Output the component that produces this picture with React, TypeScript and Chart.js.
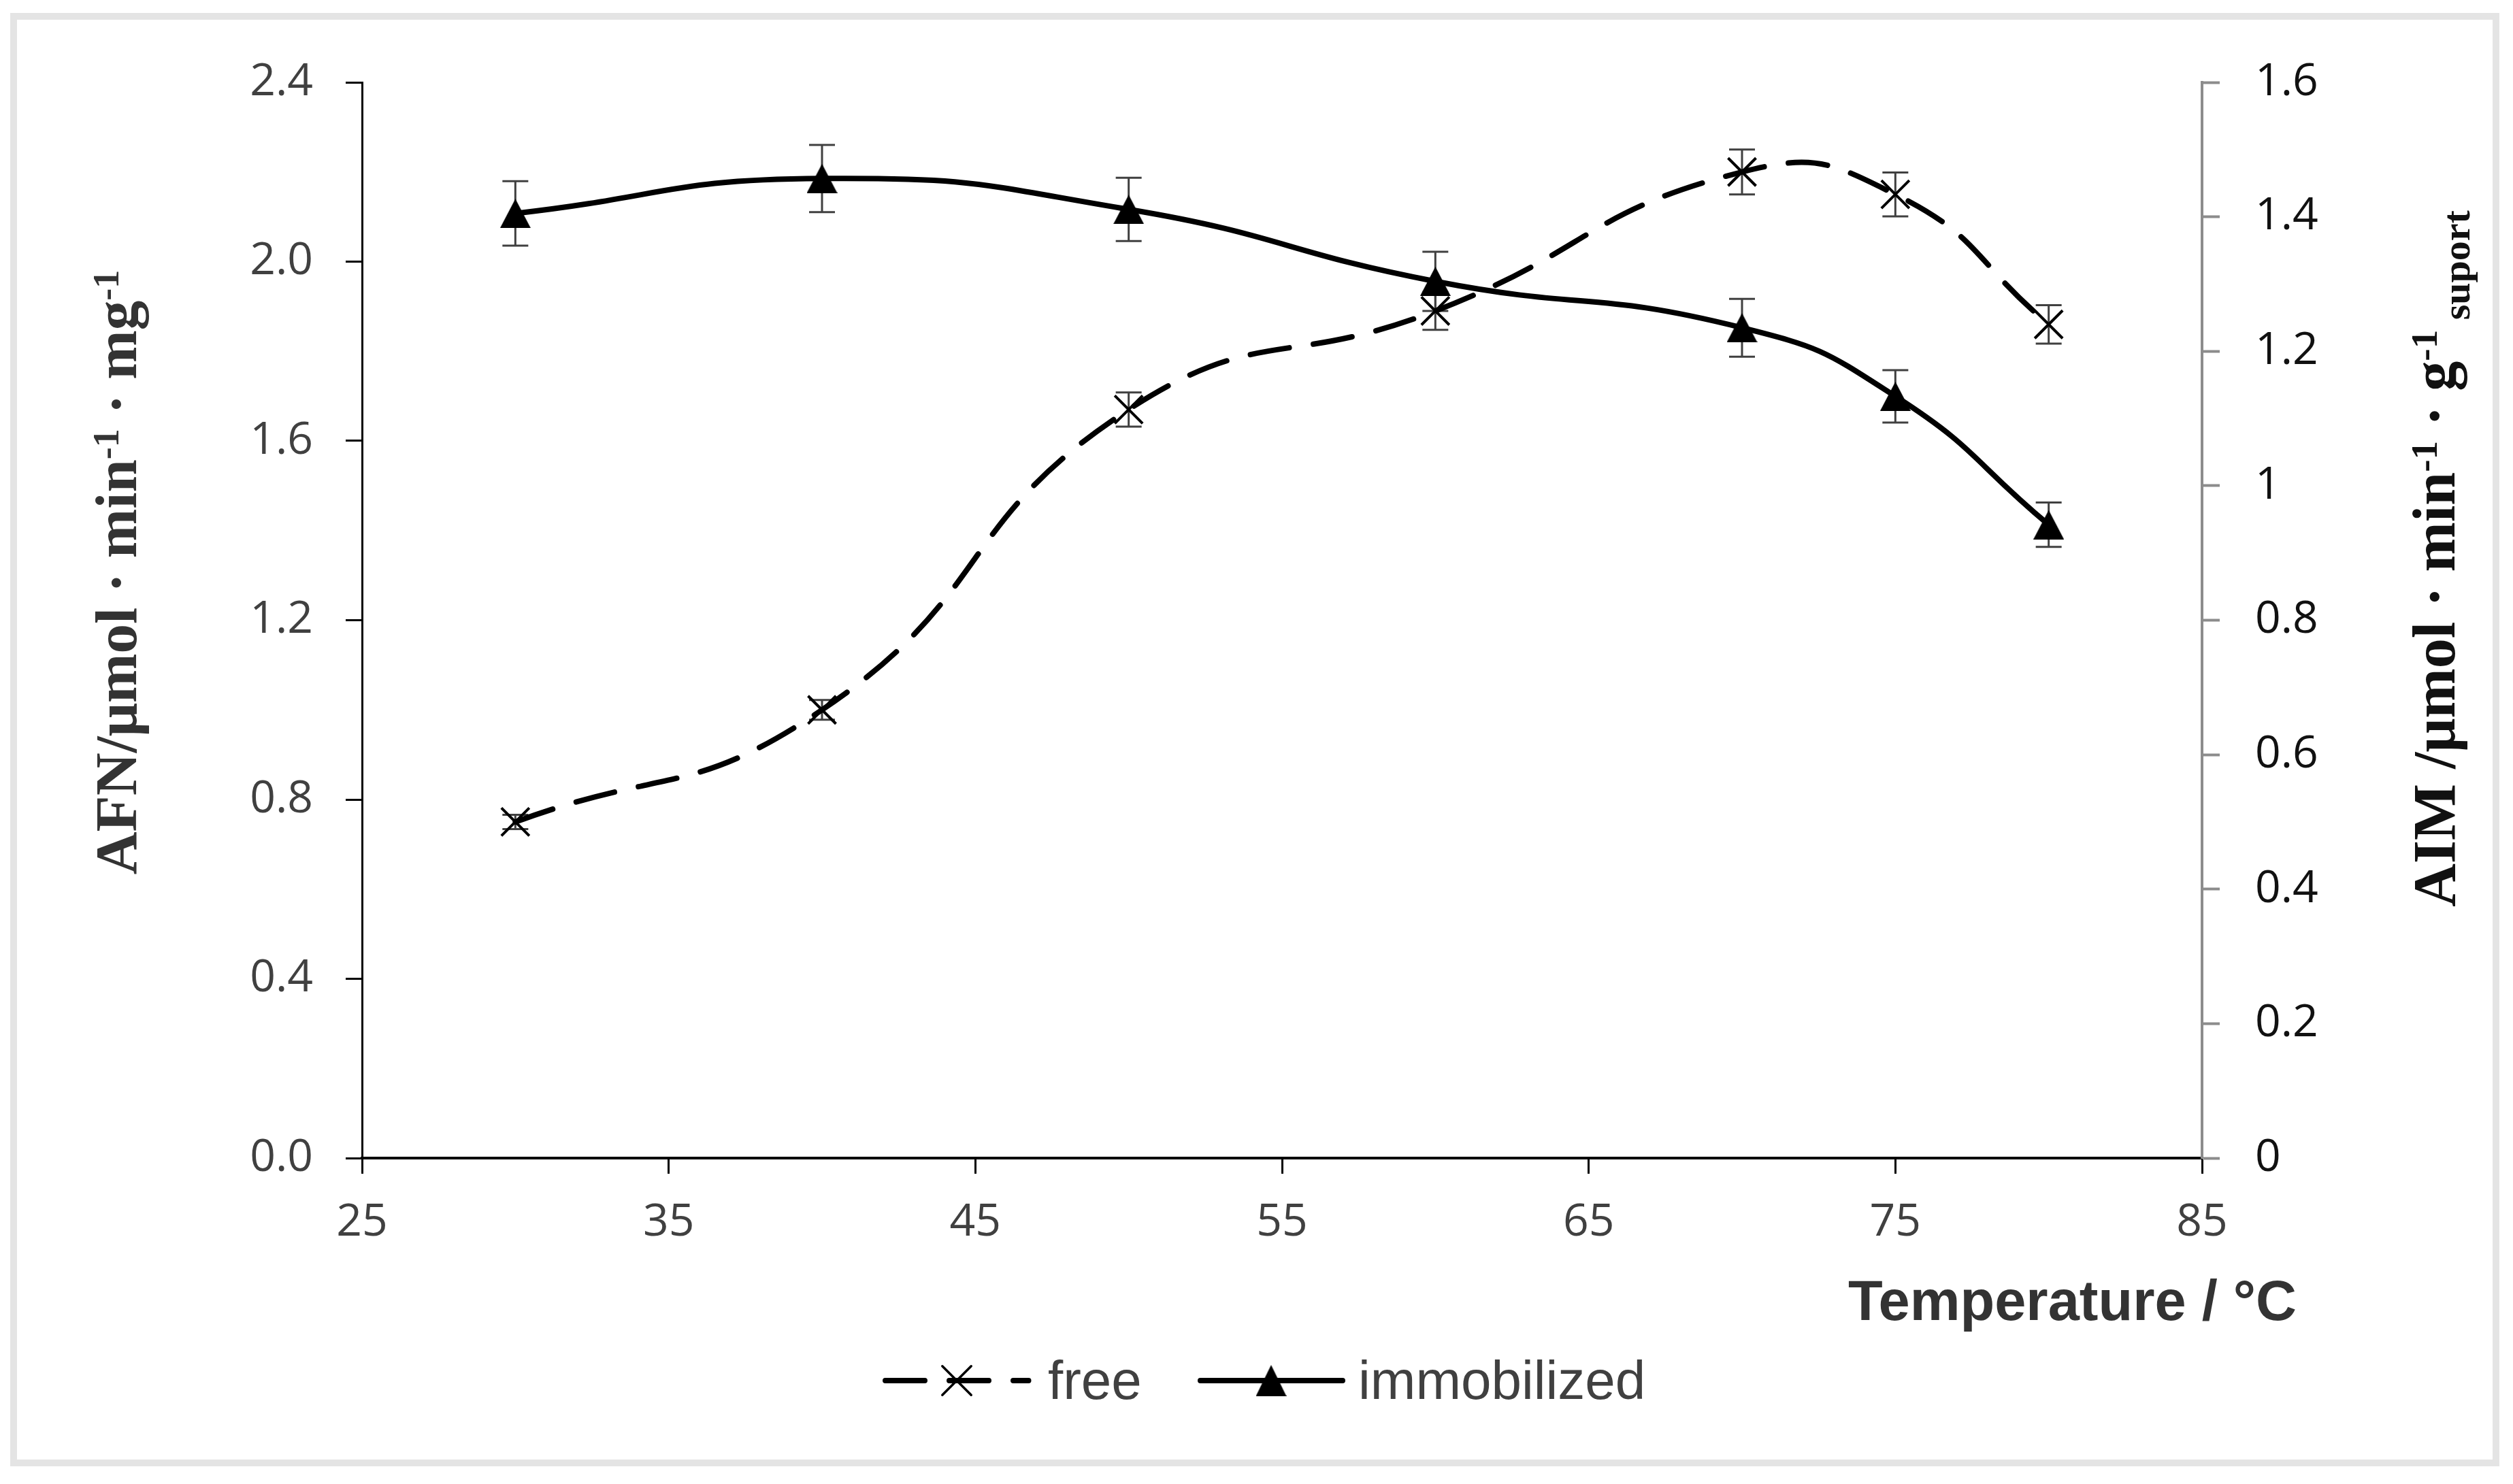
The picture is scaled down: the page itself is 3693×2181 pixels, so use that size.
import React, { useEffect, useRef } from 'react';
import { Chart, registerables } from 'chart.js';

Chart.register(...registerables);

// ---------------- data ----------------
const temperatures = [30, 40, 50, 60, 70, 75, 80];
const freeActivity = [0.75, 1.0, 1.67, 1.89, 2.2, 2.15, 1.86];
const freeError = [0.016, 0.022, 0.038, 0.042, 0.05, 0.049, 0.043];
const immobilizedActivity = [1.405, 1.457, 1.411, 1.304, 1.235, 1.133, 0.942];
const immobilizedError = [0.048, 0.05, 0.047, 0.044, 0.043, 0.039, 0.033];
const seriesNames = ['free', 'immobilized'];

const xTickValues = [25, 35, 45, 55, 65, 75, 85];
const leftTickValues = [0, 0.4, 0.8, 1.2, 1.6, 2.0, 2.4];
const leftTickLabels = ['0.0', '0.4', '0.8', '1.2', '1.6', '2.0', '2.4'];
const rightTickValues = [0, 0.2, 0.4, 0.6, 0.8, 1.0, 1.2, 1.4, 1.6];
const rightTickLabels = ['0', '0.2', '0.4', '0.6', '0.8', '1', '1.2', '1.4', '1.6'];

const xTitle = 'Temperature / °C';
type Seg = { t: string; m?: 'sup' | 'sub' };
const leftTitle: Seg[] = [
  { t: 'AFN/μmol · min' },
  { t: '-1', m: 'sup' },
  { t: ' · mg' },
  { t: '-1', m: 'sup' },
];
const rightTitle: Seg[] = [
  { t: 'AIM /μmol · min' },
  { t: '-1', m: 'sup' },
  { t: ' · g' },
  { t: '-1', m: 'sup' },
  { t: ' suport', m: 'sub' },
];

// ---------------- styling ----------------
const W = 3693;
const H = 2181;
const TICK_FONT = '"Open Sans", "Liberation Sans", sans-serif';
const SANS = '"Liberation Sans", Arial, sans-serif';
const SERIF = '"Liberation Serif", "Times New Roman", serif';
const DASH = [58, 36];
const LINE_W = 8;

function makeTriangle(): HTMLCanvasElement {
  const c = document.createElement('canvas');
  c.width = 45;
  c.height = 43;
  const g = c.getContext('2d')!;
  g.fillStyle = '#000';
  g.beginPath();
  g.moveTo(22.5, 0);
  g.lineTo(45, 43);
  g.lineTo(0, 43);
  g.closePath();
  g.fill();
  return c;
}

function drawRich(ctx: CanvasRenderingContext2D, segs: Seg[], cx: number, cy: number, base: number, color: string) {
  ctx.save();
  ctx.translate(cx, cy);
  ctx.rotate(-Math.PI / 2);
  ctx.fillStyle = color;
  ctx.textAlign = 'left';
  ctx.textBaseline = 'alphabetic';
  const fontFor = (s: Seg) => {
    const size = s.m === 'sup' ? base * 0.62 : s.m === 'sub' ? base * 0.66 : base;
    return `bold ${Math.round(size)}px ${SERIF}`;
  };
  let total = 0;
  for (const s of segs) {
    ctx.font = fontFor(s);
    total += ctx.measureText(s.t).width;
  }
  let x = -total / 2;
  for (const s of segs) {
    ctx.font = fontFor(s);
    const dy = s.m === 'sup' ? -0.3 * base : s.m === 'sub' ? 0.25 * base : 0;
    ctx.fillText(s.t, x, dy);
    x += ctx.measureText(s.t).width;
  }
  ctx.restore();
}

function drawCross(ctx: CanvasRenderingContext2D, x: number, y: number, r: number, lw: number) {
  const o = r * Math.SQRT1_2;
  ctx.save();
  ctx.strokeStyle = '#000';
  ctx.lineWidth = lw;
  ctx.setLineDash([]);
  ctx.beginPath();
  ctx.moveTo(x - o, y - o);
  ctx.lineTo(x + o, y + o);
  ctx.moveTo(x + o, y - o);
  ctx.lineTo(x - o, y + o);
  ctx.stroke();
  ctx.restore();
}

export default function App() {
  const ref = useRef<HTMLCanvasElement | null>(null);

  useEffect(() => {
    if (!ref.current) return;
    const triangle = makeTriangle();
    const errors = [freeError, immobilizedError];

    const decor = {
      id: 'decor',
      beforeDraw(chart: any) {
        const ctx = chart.ctx as CanvasRenderingContext2D;
        ctx.save();
        ctx.strokeStyle = '#e4e4e4';
        ctx.lineWidth = 10;
        ctx.strokeRect(20, 24, 3648, 2126);
        ctx.restore();
      },
      beforeDatasetsDraw(chart: any) {
        const ctx = chart.ctx as CanvasRenderingContext2D;
        const xs = chart.scales.x;
        ctx.save();
        ctx.strokeStyle = '#404040';
        ctx.lineWidth = 3;
        chart.data.datasets.forEach((ds: any, di: number) => {
          const ys = chart.scales[ds.yAxisID];
          const errs = errors[di];
          ds.data.forEach((p: any, i: number) => {
            const x = xs.getPixelForValue(p.x);
            const y1 = ys.getPixelForValue(p.y + errs[i]);
            const y2 = ys.getPixelForValue(p.y - errs[i]);
            ctx.beginPath();
            ctx.moveTo(x, y1);
            ctx.lineTo(x, y2);
            ctx.moveTo(x - 19, y1);
            ctx.lineTo(x + 19, y1);
            ctx.moveTo(x - 19, y2);
            ctx.lineTo(x + 19, y2);
            ctx.stroke();
          });
        });
        ctx.restore();
      },
      afterDraw(chart: any) {
        const ctx = chart.ctx as CanvasRenderingContext2D;
        // x axis title
        ctx.save();
        ctx.fillStyle = '#333333';
        ctx.font = `bold 83px ${SANS}`;
        ctx.textAlign = 'left';
        ctx.textBaseline = 'alphabetic';
        ctx.fillText(xTitle, 2716, 1940);
        ctx.restore();

        // y axis titles
        drawRich(ctx, leftTitle, 200, 841, 87, '#333333');
        drawRich(ctx, rightTitle, 3607, 821, 88, '#111111');

        // legend
        const ly = 2029;
        const names = chart.data.datasets.map((d: any) => d.label);
        ctx.save();
        ctx.strokeStyle = '#000';
        ctx.lineWidth = LINE_W;
        ctx.lineCap = 'round';
        // free
        ctx.setLineDash(DASH);
        ctx.beginPath();
        ctx.moveTo(1301, ly);
        ctx.lineTo(1511.5, ly);
        ctx.stroke();
        ctx.setLineDash([]);
        drawCross(ctx, 1406, ly, 30, 3.5);
        // immobilized
        ctx.beginPath();
        ctx.moveTo(1764, ly);
        ctx.lineTo(1973, ly);
        ctx.stroke();
        ctx.drawImage(triangle, 1868 - 22.5, ly - 23, 45, 46);
        ctx.fillStyle = '#404040';
        ctx.font = `80px ${SANS}`;
        ctx.textBaseline = 'alphabetic';
        ctx.textAlign = 'left';
        ctx.fillText(names[0], 1540, 2056);
        ctx.fillText(names[1], 1996, 2056);
        ctx.restore();
      },
    };

    const chart = new Chart(ref.current, {
      type: 'line',
      data: {
        datasets: [
          {
            label: seriesNames[0],
            data: temperatures.map((t, i) => ({ x: t, y: freeActivity[i] })),
            yAxisID: 'y',
            borderColor: '#000',
            borderWidth: LINE_W,
            borderDash: DASH,
            borderCapStyle: 'round',
            tension: 0.5,
            fill: false,
            pointStyle: 'crossRot',
            pointRadius: 29,
            pointBorderWidth: 4,
            pointBorderColor: '#000',
            pointBackgroundColor: '#000',
          },
          {
            label: seriesNames[1],
            data: temperatures.map((t, i) => ({ x: t, y: immobilizedActivity[i] })),
            yAxisID: 'y1',
            borderColor: '#000',
            borderWidth: LINE_W,
            borderCapStyle: 'round',
            tension: 0.5,
            fill: false,
            pointStyle: triangle,
            pointRadius: 22,
            pointBorderWidth: 0,
            pointBackgroundColor: '#000',
          },
        ],
      },
      options: {
        animation: false,
        responsive: false,
        devicePixelRatio: 1,
        events: [],
        layout: { padding: { top: 121, left: 0, right: 0, bottom: 0 } },
        plugins: {
          legend: { display: false },
          tooltip: { enabled: false },
          title: { display: false },
        },
        scales: {
          x: {
            type: 'linear',
            min: xTickValues[0],
            max: xTickValues[xTickValues.length - 1],
            afterBuildTicks: (s: any) => {
              s.ticks = xTickValues.map((value) => ({ value }));
            },
            afterFit: (s: any) => {
              s.height = 479;
            },
            ticks: {
              callback: (_v: any, i: number) => String(xTickValues[i]),
              font: { family: TICK_FONT, size: 66 },
              color: '#404040',
              padding: 33,
              maxRotation: 0,
              autoSkip: false,
            },
            grid: {
              drawOnChartArea: false,
              drawTicks: true,
              tickLength: 23,
              tickColor: '#000',
              tickWidth: 3,
            },
            border: { color: '#000', width: 4 },
          },
          y: {
            type: 'linear',
            position: 'left',
            min: leftTickValues[0],
            max: leftTickValues[leftTickValues.length - 1],
            afterBuildTicks: (s: any) => {
              s.ticks = leftTickValues.map((value) => ({ value }));
            },
            afterFit: (s: any) => {
              s.width = 532;
            },
            ticks: {
              callback: (_v: any, i: number) => leftTickLabels[i],
              font: { family: TICK_FONT, size: 66 },
              color: '#404040',
              padding: 48,
              autoSkip: false,
            },
            grid: {
              drawOnChartArea: false,
              drawTicks: true,
              tickLength: 24,
              tickColor: '#000',
              tickWidth: 3,
            },
            border: { color: '#000', width: 3 },
          },
          y1: {
            type: 'linear',
            position: 'right',
            min: rightTickValues[0],
            max: rightTickValues[rightTickValues.length - 1],
            afterBuildTicks: (s: any) => {
              s.ticks = rightTickValues.map((value) => ({ value }));
            },
            afterFit: (s: any) => {
              s.width = 457;
            },
            ticks: {
              callback: (_v: any, i: number) => rightTickLabels[i],
              font: { family: TICK_FONT, size: 66 },
              color: '#111111',
              padding: 52,
              autoSkip: false,
            },
            grid: {
              drawOnChartArea: false,
              drawTicks: true,
              tickLength: 26,
              tickColor: '#8c8c8c',
              tickWidth: 4,
            },
            border: { color: '#8c8c8c', width: 4 },
          },
        },
      } as any,
      plugins: [decor],
    } as any);

    return () => chart.destroy();
  }, []);

  return (
    <div style={{ position: 'fixed', left: 0, top: 0, width: W, height: H, background: '#fff' }}>
      <canvas ref={ref} width={W} height={H} style={{ display: 'block', width: W, height: H }} />
    </div>
  );
}
